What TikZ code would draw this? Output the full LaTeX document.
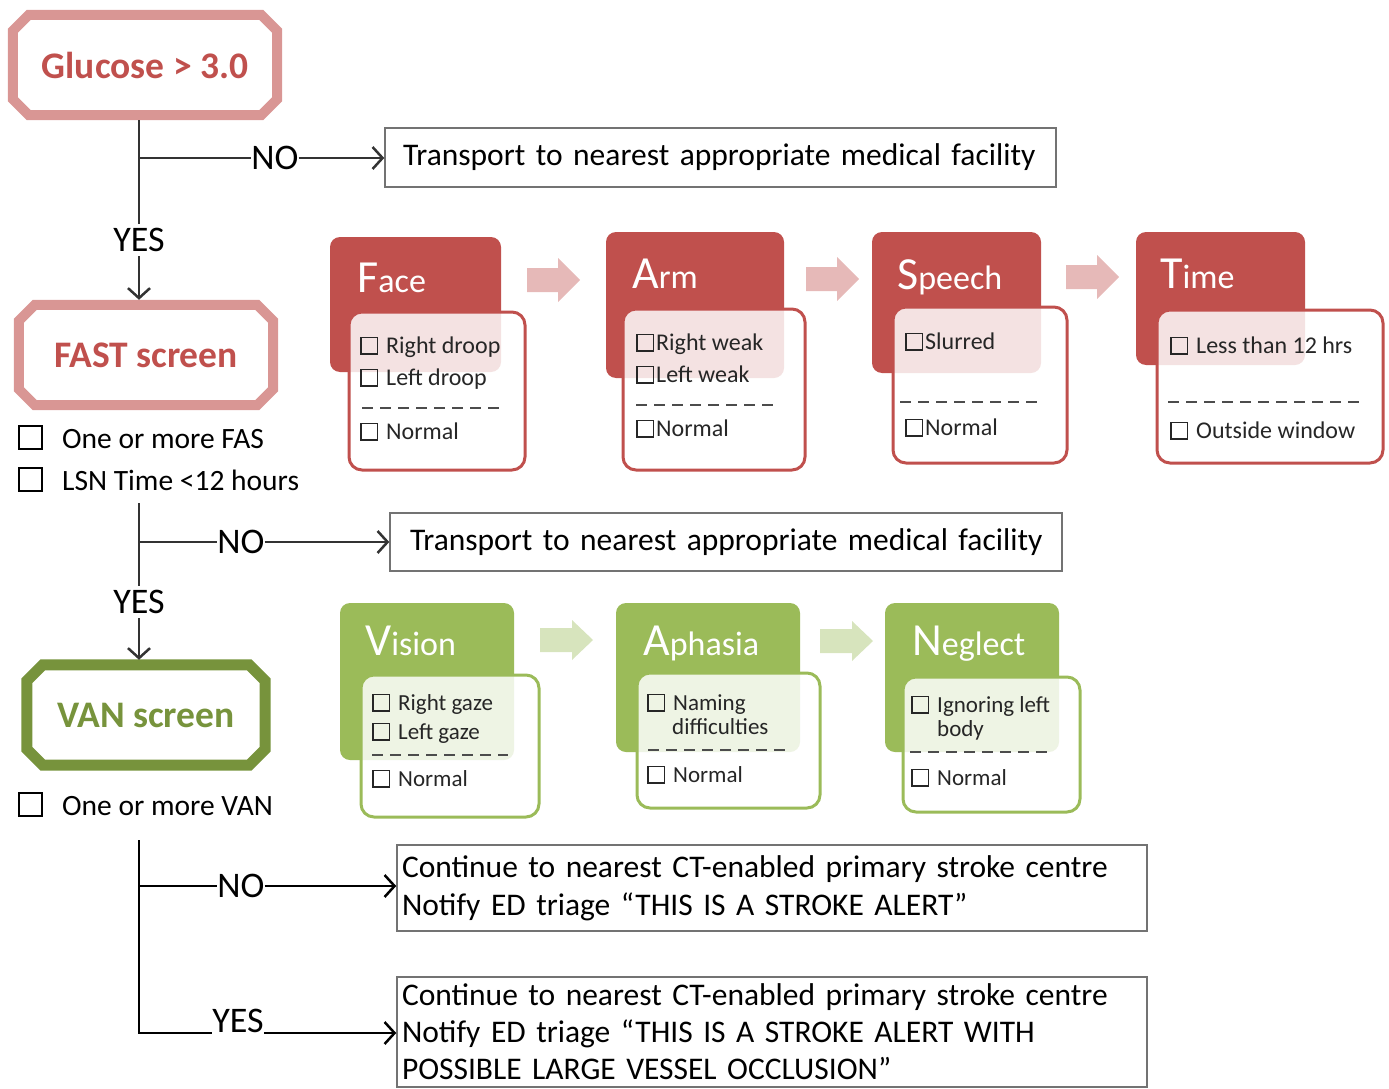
\documentclass[tikz,border=0pt]{standalone}
\usepackage{fontspec}
\setmainfont{Carlito}
\usetikzlibrary{arrows.meta}
\definecolor{fastred}{HTML}{C0504D}
\definecolor{fastpink}{HTML}{D99694}
\definecolor{arrowpink}{HTML}{E6B9B8}
\definecolor{vangreen}{HTML}{9BBB59}
\definecolor{vandark}{HTML}{77933C}
\definecolor{arrowgreen}{HTML}{D7E4BD}
\newcommand{\chkbox}[2][1.5pt]{{\setlength{\fboxsep}{0pt}\setlength{\fboxrule}{#1}\fbox{\rule{0pt}{#2}\rule{#2}{0pt}}}}
\newcommand{\octframe}[2]{\draw[#2] ([shift={(21pt,-5pt)}]#1.north west) -- ([shift={(-21pt,-5pt)}]#1.north east)
  -- ([shift={(-5pt,-21pt)}]#1.north east) -- ([shift={(-5pt,21pt)}]#1.south east)
  -- ([shift={(-21pt,5pt)}]#1.south east) -- ([shift={(21pt,5pt)}]#1.south west)
  -- ([shift={(5pt,21pt)}]#1.south west) -- ([shift={(5pt,-21pt)}]#1.north west) -- cycle;}
\tikzset{
  screen/.style={minimum height=110pt,inner sep=0pt,font=\fontsize{37.5}{40}\selectfont\bfseries},
  conn/.style={draw=black!80,line width=2.5pt},
  arr/.style={conn,-{Straight Barb[length=10pt,width=22pt,line width=2.5pt]}},
  lbl/.style={inner xsep=0pt,inner ysep=4pt,font=\fontsize{36}{38}\selectfont},
  dest/.style={draw=black!55,line width=1.5pt,align=left,inner ysep=0pt,font=\fontsize{31.5}{38}\selectfont},
  check/.style={anchor=base west,inner sep=0pt,font=\fontsize{29.5}{32}\selectfont},
  hdr/.style={rounded corners=10pt},
  card/.style={rounded corners=13pt,line width=3pt,fill=white,fill opacity=0.84},
  title/.style={anchor=base west,inner sep=0pt,text=white,font=\fontsize{34}{36}\selectfont},
  item/.style={anchor=base west,inner sep=0pt,text=black!85,font=\fontsize{24}{26}\selectfont},
  gitem/.style={item,font=\fontsize{23}{25}\selectfont},
  sep/.style={draw=black!70,line width=2pt,dash pattern=on 11pt off 7pt}
}
\begin{document}
\begin{tikzpicture}[x=1pt,y=-1pt]
\useasboundingbox (0,0) rectangle (1389,1089);
% screens
\node[screen,minimum width=274pt,text=fastred] (glucose) at (145,65) {Glucose > 3.0};
\octframe{glucose}{draw=fastpink,line width=10pt}
\node[screen,minimum width=264pt,text=fastred] (fast) at (146,355) {FAST screen};
\octframe{fast}{draw=fastpink,line width=10pt}
\node[screen,minimum width=248pt,text=vandark] (van) at (146,715) {VAN screen};
\octframe{van}{draw=vandark,line width=11pt}

\node[check] (fas) at (18,448) {\chkbox[2pt]{21pt}\hspace{19pt}One or more FAS};
\node[check] (lsn) at (18,490) {\chkbox[2pt]{21pt}\hspace{19pt}LSN Time <12 hours};
\node[check] (vancheck) at (18,815) {\chkbox[2pt]{21pt}\hspace{19pt}One or more VAN};

% destinations
\node[dest,text width=635pt,inner xsep=18pt,minimum height=59pt] (facility1) at (720.5,157.5)
  {\mbox{Transport to nearest appropriate medical facility}};
\node[dest,text width=632pt,inner xsep=20pt,minimum height=58pt] (facility2) at (726,542)
  {\mbox{Transport to nearest appropriate medical facility}};
\node[dest,text width=740pt,inner xsep=5pt,minimum height=86pt] (stroke1) at (772,888)
  {Continue to nearest CT-enabled primary stroke centre\\Notify ED triage “THIS IS A STROKE ALERT”};
\node[dest,text width=740pt,inner xsep=5pt,minimum height=110pt,font=\fontsize{31.5}{37}\selectfont] (stroke2) at (772,1032)
  {Continue to nearest CT-enabled primary stroke centre\\Notify ED triage “THIS IS A STROKE ALERT WITH\\POSSIBLE LARGE VESSEL OCCLUSION”};

% decisions
\node[lbl] (yes1) at (139,240) {YES};
\node[lbl] (no1) at (275,158) {NO};
\coordinate (split1) at (139,158);
\draw[conn] (glucose.south -| yes1) -- (yes1);
\draw[arr] (yes1) -- (yes1 |- fast.north);
\draw[conn] (split1) -- (no1);
\draw[arr] (no1) -- (no1 -| facility1.west);

\node[lbl] (yes2) at (139,602) {YES};
\node[lbl] (no2) at (241,542) {NO};
\coordinate (top2) at (139,503);
\coordinate (split2) at (139,542);
\draw[conn] (top2) -- (yes2);
\draw[arr] (yes2) -- (yes2 |- van.north);
\draw[conn] (split2) -- (no2);
\draw[arr] (no2) -- (no2 -| facility2.west);

\node[lbl] (no3) at (241,886) {NO};
\node[lbl,anchor=south,inner ysep=0pt] (yes3) at (238,1033) {YES};
\coordinate (top3) at (139,840);
\coordinate (split3) at (139,886);
\coordinate (corner3) at (139,1033);
\draw[conn,draw=black] (top3) -- (corner3) -- (yes3.south west);
\draw[arr,draw=black] (yes3.south east) -- (corner3 -| stroke2.west);
\draw[conn,draw=black] (split3) -- (no3);
\draw[arr,draw=black] (no3) -- (no3 -| stroke1.west);

% FAST cards
\foreach \x/\y in {527/280,806/279,1066/277}
  \fill[arrowpink] (\x,\y) ++(0,-12) -- ++(31,0) -- ++(0,-10) -- ++(22,22) -- ++(-22,22) -- ++(0,-10) -- ++(-31,0) -- cycle;

\fill[fastred,hdr] (330,237) rectangle (501,372);
\draw[fastred,card] (349,312) rectangle (525,470);
\node[title] (face) at (357,292) {{\fontsize{46}{46}\selectfont F}ace};
\node[item] (face1) at (360,353) {\chkbox{15pt}\hspace{8pt}Right droop};
\node[item] (face2) at (360,385) {\chkbox{15pt}\hspace{8pt}Left droop};
\draw[sep] (362,408) -- (503,408);
\node[item] (face3) at (360,439) {\chkbox{15pt}\hspace{8pt}Normal};

\fill[fastred,hdr] (606,232) rectangle (784,378);
\draw[fastred,card] (623,309) rectangle (805,470);
\node[title] (arm) at (632,288) {{\fontsize{46}{46}\selectfont A}rm};
\node[item] (arm1) at (636,350) {\chkbox{15pt}\hspace{2pt}Right weak};
\node[item] (arm2) at (636,382) {\chkbox{15pt}\hspace{2pt}Left weak};
\draw[sep] (636,405) -- (778,405);
\node[item] (arm3) at (636,436) {\chkbox{15pt}\hspace{2pt}Normal};

\fill[fastred,hdr] (872,232) rectangle (1041,373);
\draw[fastred,card] (893,307) rectangle (1067,463);
\node[title] (speech) at (897,289) {{\fontsize{46}{46}\selectfont S}peech};
\node[item] (speech1) at (905,349) {\chkbox{15pt}\hspace{2pt}Slurred};
\draw[sep] (900,402) -- (1042,402);
\node[item] (speech2) at (905,435) {\chkbox{15pt}\hspace{2pt}Normal};

\fill[fastred,hdr] (1136,232) rectangle (1305,365);
\draw[fastred,card] (1157,310) rectangle (1383,463);
\node[title] (time) at (1160,288) {{\fontsize{46}{46}\selectfont T}ime};
\node[item] (time1) at (1170,353) {\chkbox{15pt}\hspace{8pt}Less than 12 hrs};
\draw[sep] (1168,402) -- (1362,402);
\node[item] (time2) at (1170,438) {\chkbox{15pt}\hspace{8pt}Outside window};

% VAN cards
\foreach \x/\y in {540/640,820/641}
  \fill[arrowgreen] (\x,\y) ++(0,-12) -- ++(32,0) -- ++(0,-8) -- ++(21,20) -- ++(-21,20) -- ++(0,-8) -- ++(-32,0) -- cycle;

\fill[vangreen,hdr] (340,603) rectangle (514,760);
\draw[vangreen,card] (361,675) rectangle (539,817);
\node[title] (vision) at (365,655) {{\fontsize{46}{46}\selectfont V}ision};
\node[gitem] (vision1) at (372,710) {\chkbox{15pt}\hspace{8pt}Right gaze};
\node[gitem] (vision2) at (372,739) {\chkbox{15pt}\hspace{8pt}Left gaze};
\draw[sep] (372,755) -- (508,755);
\node[gitem] (vision3) at (372,786) {\chkbox{15pt}\hspace{8pt}Normal};

\fill[vangreen,hdr] (616,603) rectangle (800,752);
\draw[vangreen,card] (637,673) rectangle (820,808);
\node[title] (aphasia) at (643,655) {{\fontsize{46}{46}\selectfont A}phasia};
\node[gitem] (aphasia1) at (647,710) {\chkbox{15pt}\hspace{8pt}Naming};
\node[gitem] (aphasia2) at (672,734) {difficulties};
\draw[sep] (648,750) -- (785,750);
\node[gitem] (aphasia3) at (647,782) {\chkbox{15pt}\hspace{8pt}Normal};

\fill[vangreen,hdr] (885,603) rectangle (1059,752);
\draw[vangreen,card] (903,677) rectangle (1080,812);
\node[title] (neglect) at (912,655) {{\fontsize{46}{46}\selectfont N}eglect};
\node[gitem] (neglect1) at (911,712) {\chkbox{15pt}\hspace{8pt}Ignoring left};
\node[gitem] (neglect2) at (937,736) {body};
\draw[sep] (910,752) -- (1047,752);
\node[gitem] (neglect3) at (911,785) {\chkbox{15pt}\hspace{8pt}Normal};
\end{tikzpicture}
\end{document}
